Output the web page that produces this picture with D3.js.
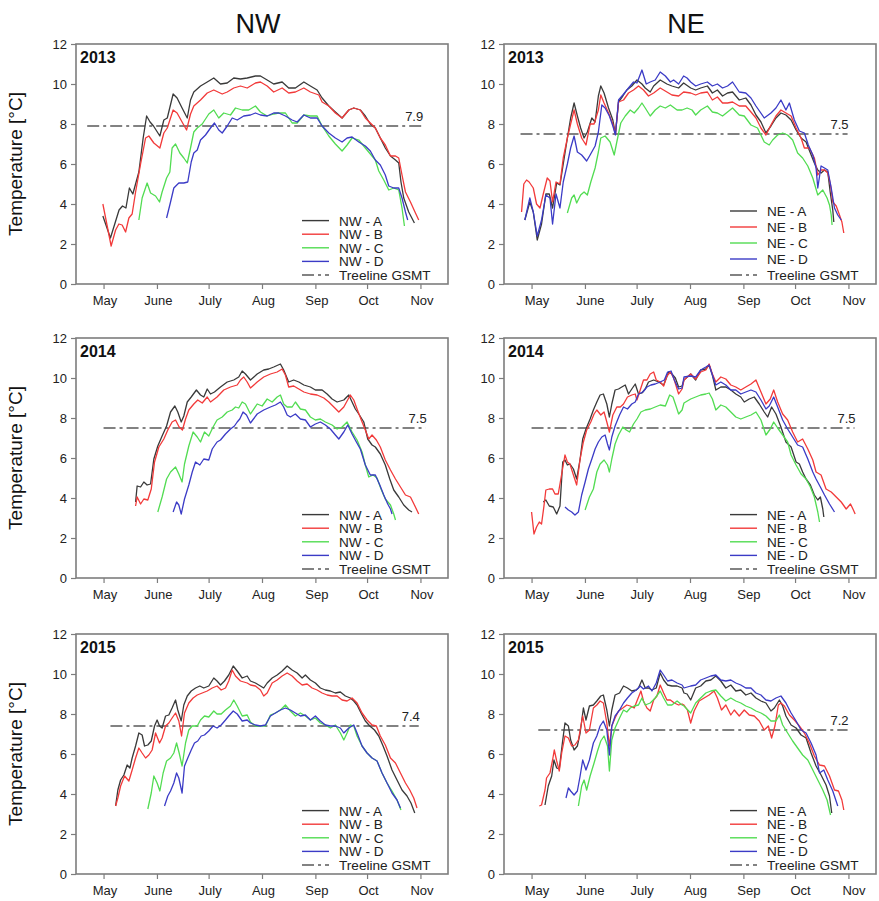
<!DOCTYPE html>
<html><head><meta charset="utf-8">
<script src="https://cdn.jsdelivr.net/npm/d3@7"></script>
<style>
body{margin:0;background:#fff;}
text{font-family:"Liberation Sans",Arial,Helvetica,sans-serif;}
</style>
</head><body>
<svg id="chart" width="879" height="901"></svg>
<script>
// Daily mean soil temperature at treeline sites, season May–Oct.
// Each point: [days since 1 May, °C]
const months = ["May", "June", "July", "Aug", "Sep", "Oct", "Nov"];
const monthStartDays = [0, 31, 61, 92, 123, 153, 184];
const years = [2013, 2014, 2015];
const aspects = ["NW", "NE"];
const sites = ["A", "B", "C", "D"];
const tempTicks = [0, 2, 4, 6, 8, 10, 12];

// treeline growing-season mean temperature and the span of the reference line
const gsmtNW = [7.9, 7.5, 7.4];
const gsmtNE = [7.5, 7.5, 7.2];
const gsmtSpanNW = [[-9.5, 185], [0, 187], [4, 183]];
const gsmtSpanNE = [[-6.4, 183.5], [0, 187.5], [3.9, 183.5]];

// ---- NW 2013 ----
const nw2013A = [[-0.4,3.4],[4,2.3],[9,3.7],[11,3.9],[13,3.8],[15,4.8],[17,4.5],[20.5,5.6],[23,7.3],[25,8.4],[27,8.1],[29,7.9],[32.7,7.4],[35,8.2],[37,8.3],[40.4,9.5],[42.7,9.3],[45.6,8.8],[48.6,8.3],[50.5,9.2],[52.4,9.6],[56.3,9.9],[60.2,10.1],[64,10.3],[67.9,10.0],[71.8,10.05],[75.6,10.3],[79.5,10.25],[83.4,10.3],[88.2,10.4],[91.1,10.4],[95,10.2],[98.8,10.0],[103.7,10.1],[107.5,9.8],[111.4,9.8],[116.3,10.1],[120.1,9.9],[124,9.7],[126.9,9.3],[130.8,8.9],[134.6,8.6],[138.5,8.3],[142.4,8.7],[145.3,8.8],[149.1,8.7],[152,8.4],[154.9,8.0],[157.8,7.8],[160.7,7.3],[163.6,6.8],[166.6,6.4],[169.5,6.2],[171.4,6.05],[172.7,5.1],[174.3,4.3],[177.2,3.6],[180.5,3.05]];
const nw2013B = [[-0.4,4.0],[4.4,1.9],[7,2.7],[8.9,3.0],[10.8,2.95],[12.8,2.6],[14.7,3.3],[16.6,3.5],[18.6,4.6],[21.5,6.0],[24.4,7.3],[26.3,7.4],[29.2,7.05],[32.7,6.8],[35,7.55],[37,7.8],[40.4,8.7],[42.7,8.55],[45.6,8.1],[48.2,7.7],[50.5,8.5],[52.4,8.9],[56.3,9.2],[60.2,9.55],[64,9.7],[68.9,9.5],[71.8,9.6],[75.6,9.8],[79.5,9.9],[83.4,9.8],[88.2,10.05],[91.1,10.1],[95,9.9],[98.8,9.6],[103.7,9.8],[107.5,9.55],[111.4,9.6],[116.3,9.8],[120.1,9.6],[125,9.45],[126.9,9.1],[130.8,8.9],[134.6,8.55],[138.5,8.3],[142.4,8.7],[145.3,8.8],[149.1,8.7],[152,8.3],[154.9,8.05],[157.8,7.8],[160.7,7.3],[163.6,6.95],[166.6,6.4],[169.5,6.4],[171.4,6.3],[173.3,5.45],[175.3,4.6],[178.2,4.1],[181.1,3.55],[183,3.2]];
const nw2013C = [[20.5,3.2],[22.4,4.3],[25.3,5.05],[27.3,4.55],[30.2,4.4],[32.5,4.1],[34,4.6],[36.6,5.3],[38.5,5.6],[39.8,6.8],[41.8,7.0],[44.3,6.55],[46.6,6.3],[48.6,6.05],[50.5,6.8],[52.4,7.6],[54.4,7.8],[57.3,8.0],[61.1,8.5],[64,8.7],[66.9,8.3],[69.8,8.55],[73.7,8.45],[76.6,8.8],[80.5,8.7],[84.3,8.7],[88.2,8.9],[91.1,8.6],[95,8.4],[98.8,8.5],[101.7,8.55],[105.6,8.55],[109.5,8.05],[112.4,8.05],[116.3,8.45],[120.1,8.4],[124,8.4],[126.9,7.9],[130.8,7.4],[134.6,7.0],[138.5,6.65],[141.4,6.95],[144.3,7.3],[148.2,7.2],[152,6.8],[154.9,6.5],[157.8,6.2],[159.8,5.65],[162.7,5.2],[165.6,4.7],[168.5,4.8],[171.4,4.7],[173.3,3.8],[174.7,2.9]];
const nw2013D = [[36.6,3.3],[38.9,4.1],[40.8,4.8],[43.7,5.05],[46.6,5.05],[48.9,5.1],[50.9,6.1],[52.4,6.55],[54.4,6.7],[56.3,7.2],[59.2,7.45],[62.1,7.8],[64.4,8.05],[66.9,7.7],[68.9,7.55],[71.8,7.9],[74.7,8.3],[77.6,8.2],[81.4,8.4],[85.3,8.45],[88.2,8.55],[91.1,8.45],[95,8.4],[98.8,8.55],[101.7,8.55],[105.6,8.4],[109.5,8.2],[112.4,8.1],[116.3,8.45],[120.1,8.3],[124,8.3],[126.9,7.9],[130.8,7.55],[134.6,7.3],[138.5,7.1],[141.4,7.3],[144.3,7.35],[148.2,7.1],[152,6.9],[154.9,6.65],[157.8,6.2],[160.7,5.95],[163.6,5.45],[165.6,4.9],[168.5,4.8],[171.4,4.8],[173.3,4.3],[175.3,3.6],[176.6,3.2]];

// ---- NE 2013 ----
const ne2013A = [[-3.9,3.2],[-1,4.1],[1,3.6],[3.3,2.2],[5.8,3.0],[8.3,4.5],[10.3,4.5],[12.2,3.8],[14.6,5.05],[16.5,4.95],[18.4,6.0],[20.8,7.3],[22.7,8.3],[24.7,9.05],[26.6,8.4],[28.5,7.8],[30.5,7.3],[32.4,7.6],[35,8.3],[36.9,8.1],[38.8,9.4],[40.2,9.9],[42.1,9.55],[44.7,8.8],[47.2,8.2],[48.7,7.5],[50.5,9.1],[53,9.4],[55.3,9.7],[58.2,9.9],[61.2,10.2],[64.1,10.0],[66,9.8],[68.9,9.6],[70.9,9.9],[74.7,10.2],[78.6,10.0],[81.5,9.9],[85.4,9.8],[88.3,10.05],[92.4,9.8],[95.3,9.7],[98.2,9.8],[102.1,9.9],[105,9.55],[107.9,9.7],[110.9,9.4],[113.8,9.55],[116.7,9.6],[120.6,9.2],[124.4,9.3],[127.4,8.95],[130.3,8.45],[133.2,8.1],[136.1,7.55],[139,7.9],[141.9,8.3],[144.8,8.55],[147.7,8.45],[150.7,8.2],[153.6,7.7],[156.5,7.3],[159.4,7.1],[161.9,6.55],[164.2,6.05],[166.2,5.7],[168.1,5.55],[170.1,5.7],[172,5.6],[173.4,4.6],[174.9,3.7],[175.5,3.1]];
const ne2013B = [[-5.8,3.6],[-4.5,5.0],[-2.9,5.2],[-1.4,5.1],[1,4.8],[2.9,4.0],[4.9,3.8],[6.8,4.5],[9.1,5.3],[10.7,5.15],[12.2,4.1],[14.2,5.1],[16.5,5.0],[18.4,6.3],[20.8,7.3],[22.7,8.0],[24.7,8.7],[26.6,8.0],[29.1,7.3],[31.6,6.95],[34,8.0],[36.3,8.0],[38.8,8.7],[40.2,9.45],[42.1,9.05],[44.7,8.55],[47.2,8.0],[48.7,7.5],[50.5,9.1],[53.4,9.2],[56.3,9.55],[59.2,9.7],[62.1,9.9],[65,9.7],[67.9,9.4],[70.9,9.55],[74.7,9.8],[78.6,9.6],[81.5,9.45],[85.4,9.4],[88.3,9.6],[92.4,9.55],[95.3,9.45],[98.2,9.55],[102.1,9.6],[105,9.2],[107.9,9.35],[110.9,9.05],[113.8,9.05],[116.7,9.1],[120.6,8.9],[124.4,8.9],[127.4,8.6],[130.3,8.3],[133.2,7.8],[136.1,7.45],[139,7.95],[141.9,8.4],[144.8,8.7],[147.7,8.55],[150.7,8.4],[153.6,7.8],[156.5,7.3],[158.4,6.8],[161.3,6.8],[164.2,6.3],[166.2,5.45],[168.1,5.7],[170.1,5.7],[172,5.55],[173.6,4.95],[174.9,4.1],[176.9,3.9],[178.8,3.45],[180.2,3.1],[181.3,2.55]];
const ne2013C = [[20.8,3.55],[23.3,4.3],[24.7,4.45],[26.2,4.05],[28.5,4.45],[30.5,4.6],[32.4,4.45],[34.4,5.1],[36.9,5.8],[38.8,6.6],[40.2,7.3],[42.7,7.4],[45.6,7.1],[48,6.45],[49.5,7.1],[51.8,8.05],[54.4,8.4],[57.3,8.7],[59.6,8.55],[62.1,8.8],[64.1,9.05],[66,8.8],[68.9,8.4],[71.8,8.7],[74.7,8.9],[77.7,8.8],[80.6,8.95],[84.5,8.7],[87.4,8.7],[90.3,8.8],[93.2,8.7],[95.3,8.45],[98.2,8.7],[102.1,8.9],[105,8.6],[107.9,8.55],[110.9,8.4],[113.8,8.6],[116.7,8.8],[120.6,8.45],[123.5,8.4],[127.4,7.95],[131.2,7.8],[135.1,7.1],[138,6.95],[140,7.2],[142.9,7.45],[145.8,7.55],[148.7,7.45],[151.6,7.2],[154.5,6.55],[157.4,6.3],[160.4,5.9],[163.3,5.3],[166.2,4.45],[169.1,4.7],[171.6,4.3],[173,3.95],[174,3.45],[174.5,2.95]];
const ne2013D = [[-3.9,3.2],[-1,4.3],[1,3.6],[3.3,2.4],[5.8,3.2],[8.3,4.45],[10.7,4.3],[12.2,3.0],[14.2,4.5],[16.5,3.8],[18.4,5.1],[20.8,6.0],[22.7,6.8],[24.7,7.4],[26.6,6.6],[29.1,6.45],[32,6.15],[34,6.45],[36.9,6.9],[38.8,7.6],[40.8,8.95],[42.7,8.8],[45.2,8.4],[47.2,7.9],[48.7,7.45],[50.5,9.2],[53,9.45],[56.3,9.8],[59.2,10.1],[61.2,10.05],[64.1,10.7],[66.6,10.0],[68.9,10.1],[71.8,10.2],[74.7,10.6],[77.7,10.4],[80.6,10.1],[82.5,10.2],[85.4,10.0],[88.3,10.4],[90.3,10.3],[92.4,10.1],[95.3,9.9],[98.2,10.0],[102.1,10.1],[105,9.9],[107.9,10.0],[110.9,9.8],[113.8,9.9],[116.7,10.1],[120.6,9.6],[124.4,9.55],[127.4,9.3],[130.3,8.9],[135.1,8.3],[139,8.55],[141.9,8.8],[144.8,9.2],[147.7,8.7],[149.7,9.05],[152.6,8.2],[155.5,7.65],[158.4,7.55],[160.7,6.95],[163.3,6.45],[165.2,5.8],[166.2,4.8],[168.1,5.9],[170.1,5.8],[172,5.7],[174,4.8],[175.9,3.8],[177.8,3.45],[179.8,3.2]];

// ---- NW 2014 ----
const nw2014A = [[18.6,3.8],[19.5,4.6],[21.5,4.55],[23.4,4.8],[25.3,4.65],[27.3,4.7],[29.2,5.95],[31.5,6.6],[34,7.1],[36.6,7.6],[38.9,8.3],[41.4,8.6],[43.1,8.3],[45.1,7.8],[46.6,8.1],[48.6,8.8],[50.9,9.05],[53.9,9.4],[56.3,9.15],[58.2,9.05],[60.2,9.45],[62.1,9.2],[64.4,9.3],[67.9,9.55],[71.8,9.8],[75.6,9.9],[78.5,10.05],[80.5,10.35],[82.4,10.2],[85.3,9.9],[89.2,10.2],[93,10.4],[95.9,10.45],[98.8,10.55],[102.7,10.7],[104.6,10.4],[107.5,9.8],[110.4,9.9],[113.4,9.8],[116.3,9.65],[120.1,9.55],[123,9.4],[126.9,9.4],[129.8,9.2],[132.7,8.95],[135.6,8.8],[139.5,8.9],[142.4,9.15],[144.3,8.8],[146.2,8.45],[148.2,8.2],[151.1,7.8],[153.4,6.95],[155.9,6.65],[157.8,6.55],[160.7,6.2],[163.6,5.65],[166.2,4.95],[168.5,4.4],[171.4,4.05],[174.3,3.65],[177.2,3.4],[179.1,3.3]];
const nw2014B = [[18.6,3.6],[19.5,4.05],[21.5,3.7],[23.4,3.95],[25.7,3.9],[27.7,4.45],[29.6,5.8],[32.1,6.55],[35,6.95],[37.3,7.4],[39.8,7.8],[41.8,7.9],[43.9,7.55],[45.8,7.4],[47.6,7.95],[49.5,8.4],[52.4,8.7],[54.7,8.9],[57.3,8.75],[60.2,9.05],[62.1,8.8],[65.9,9.05],[69.8,9.4],[73.7,9.55],[77.6,9.65],[79.5,9.9],[81.4,10.05],[83.4,9.8],[85.3,9.5],[89.2,9.8],[93,10.05],[96.9,10.2],[100.8,10.3],[103.7,10.45],[105.6,10.15],[107.5,9.55],[110.4,9.6],[113.4,9.45],[116.3,9.3],[120.1,9.2],[124,9.15],[127.9,9.0],[130.8,8.8],[133.7,8.55],[136.6,8.3],[139.5,8.55],[143.3,9.15],[145.3,8.9],[147.2,8.45],[150.1,7.8],[152,7.4],[154,6.95],[155.9,7.15],[158.4,6.9],[160.7,6.55],[163.6,5.9],[166.6,5.4],[169.5,4.95],[172.4,4.55],[175.3,4.15],[178.2,4.05],[180.5,3.65],[183,3.2]];
const nw2014C = [[31.5,3.3],[34,4.05],[36.6,4.95],[38.9,5.3],[41.8,5.55],[43.7,5.2],[45.6,4.8],[47,5.7],[49.5,6.6],[52,7.3],[54.4,7.05],[56.3,6.8],[58.6,7.3],[61.1,7.1],[63.6,7.55],[65.9,7.9],[68.9,8.05],[71.8,8.3],[74.7,8.4],[76.6,8.55],[78.5,8.5],[80.5,8.8],[82.4,8.7],[85.3,8.2],[89.2,8.7],[92.1,8.6],[95,8.95],[97.9,8.8],[100.8,9.05],[102.7,9.15],[104.6,8.7],[106.6,8.55],[109.5,8.55],[111.4,8.8],[114.3,8.45],[117.2,8.4],[120.1,8.05],[123,7.9],[125.9,7.95],[128.8,7.8],[132.7,7.65],[135.6,7.45],[138.5,7.55],[141.4,7.8],[144.3,7.3],[147.2,6.9],[150.1,6.3],[152,5.65],[154,5.05],[156.5,5.15],[158.8,5.0],[161.1,4.45],[163.6,3.95],[166.6,3.65],[168.5,3.2],[169.5,2.9]];
const nw2014D = [[40.4,3.3],[42.4,3.8],[43.7,3.65],[45.1,3.2],[47,3.95],[49.5,4.65],[51.5,5.3],[53.4,5.8],[55.9,5.65],[58.2,5.95],[61.1,5.9],[63.1,6.45],[65.9,6.8],[67.9,6.9],[70.8,7.2],[73.7,7.45],[76,7.6],[77.6,7.8],[79.1,7.95],[81,8.3],[83,8.15],[85.3,7.75],[89.2,8.2],[93,8.4],[96.9,8.55],[99.8,8.65],[102.7,8.8],[104.6,8.55],[106.6,8.15],[108.5,8.05],[111.4,8.2],[114.3,7.95],[117.2,7.9],[120.1,7.55],[123,7.7],[125.9,7.8],[128.8,7.65],[131.7,7.45],[134.6,7.15],[136.6,6.95],[139.5,7.3],[141.8,7.65],[144.3,7.2],[146.8,6.8],[149.1,6.45],[152,5.65],[154.9,5.15],[157.8,5.15],[160.4,4.65],[162.7,4.15],[165,3.7],[166.6,3.45],[167.5,3.2]];

// ---- NE 2014 ----
const ne2014A = [[6.8,3.8],[8.3,3.9],[10.3,3.6],[12.6,3.55],[14.6,3.2],[16.5,3.6],[18.1,5.8],[19.4,5.9],[20.8,5.65],[22.3,5.7],[24.3,5.45],[26.2,4.95],[28.2,5.95],[29.7,6.95],[31.6,7.45],[34,7.95],[35.9,8.4],[37.9,8.8],[39.8,9.15],[41.7,9.2],[43.7,8.7],[45.2,8.05],[46.6,8.7],[48.5,9.4],[50.5,9.45],[52.4,9.55],[54.4,9.65],[56.3,9.2],[58.2,9.45],[60.2,9.7],[62.1,9.2],[64.1,9.25],[66,9.45],[67.9,9.8],[70.9,9.9],[73.8,9.8],[76.7,9.65],[79.6,10.3],[81.5,10.2],[83.5,10.0],[85.4,9.55],[87.4,9.6],[88.5,9.9],[92.4,10.2],[95.3,9.9],[98.2,10.4],[101.2,10.45],[103.1,10.65],[105,10.15],[107,9.4],[109.9,9.55],[112.8,9.55],[115.7,9.4],[118.6,9.2],[121.5,9.05],[123.5,8.8],[126.4,8.95],[129.3,9.05],[132.2,8.7],[135.1,8.3],[137.1,8.05],[139.4,8.55],[141.9,8.2],[144.8,7.55],[147.7,6.8],[150.7,6.55],[153.6,5.8],[155.5,5.7],[157.4,5.3],[159.4,4.95],[161.9,4.65],[164.2,4.15],[166.2,3.9],[167.7,4.05],[169.1,3.45],[169.7,3.05]];
const ne2014B = [[0,3.3],[1.4,2.2],[2.9,2.55],[4.5,2.8],[5.8,2.7],[7.2,3.6],[8.3,4.4],[10.3,4.45],[12.2,4.45],[13.6,4.2],[15.5,4.2],[17.5,5.2],[19.4,6.15],[20.8,5.8],[22.3,5.7],[24.3,5.15],[26.2,4.65],[28.2,5.95],[30.1,6.8],[32,7.4],[34.4,7.8],[36.3,8.2],[37.9,8.4],[40.2,8.15],[42.1,8.3],[43.7,7.8],[45.2,7.3],[47.2,8.15],[49.5,8.55],[51.5,8.55],[53.4,8.7],[55.7,9.05],[58.2,9.15],[60.2,9.2],[61.2,8.9],[63.1,9.4],[65,9.9],[67,9.9],[68.9,10.2],[70.9,10.3],[72.4,9.9],[74.7,9.8],[76.7,9.6],[78.6,10.1],[80.6,10.3],[82.5,10.0],[85.4,9.2],[87.4,9.45],[88.5,9.9],[92.4,10.2],[95.3,9.95],[98.2,10.3],[101.2,10.4],[103.1,10.7],[105,10.2],[107,9.8],[109.9,10.05],[112.8,9.95],[115.7,9.65],[118.6,9.55],[121.5,9.4],[124.4,9.55],[127.4,9.7],[130.3,9.9],[133.2,9.3],[136.1,8.7],[138.6,8.95],[140.6,9.4],[142.9,8.8],[145.8,8.2],[148.7,7.9],[151.6,7.3],[154.5,6.8],[157.4,6.95],[160.4,6.45],[163.3,5.9],[165.2,5.3],[168.1,5.15],[171,4.45],[174,4.3],[176.9,4.05],[179.8,3.8],[182.7,3.45],[185.2,3.7],[186.6,3.45],[187.9,3.2]];
const ne2014C = [[31.1,3.4],[33.6,4.05],[35.9,4.45],[37.9,5.3],[39.8,5.7],[42.1,5.9],[44.1,5.65],[45.2,5.3],[46.6,5.95],[48.5,6.7],[50.5,7.15],[53,7.55],[55,7.4],[56.9,7.3],[59.2,7.7],[61.2,7.95],[63.5,8.3],[66,8.4],[69,8.45],[71.8,8.55],[74.7,8.65],[77.7,8.6],[80.2,9.15],[82.1,9.05],[83.5,8.7],[85.4,8.2],[87.4,8.4],[88.5,8.75],[92.4,8.95],[95.3,9.05],[98.2,9.15],[101.2,9.2],[103.1,9.25],[105,8.95],[107,8.4],[109.9,8.65],[112.8,8.55],[115.7,8.3],[118.6,8.05],[121.5,7.95],[124.4,8.05],[127.4,8.15],[130.3,8.3],[133.2,7.9],[136.1,7.15],[138.6,7.45],[140.6,7.8],[142.9,7.5],[145.8,7.15],[148.7,6.8],[150.7,6.15],[153.6,5.65],[156.5,5.2],[159.4,4.95],[161.9,4.55],[164.2,4.05],[166.2,3.3],[167.2,2.8]];
const ne2014D = [[19.4,3.55],[21.4,3.4],[23.3,3.3],[25.2,3.15],[27.2,3.3],[29.1,4.15],[31.1,4.8],[33,5.45],[35,5.95],[36.9,6.45],[38.8,6.8],[40.8,7.05],[42.7,7.15],[44.1,6.7],[45.2,6.4],[46.6,7.05],[48.5,7.6],[51.1,8.15],[53.4,8.55],[55.7,8.45],[58.2,8.7],[60.2,8.8],[62.1,9.2],[64.6,9.3],[67,9.55],[69.3,9.65],[71.8,9.7],[74.7,9.8],[77.1,9.9],[79,10.3],[81,10.35],[82.9,9.9],[85.4,9.45],[87.4,9.5],[88.5,10.05],[92.4,10.1],[95.3,10.05],[98.2,10.4],[101.2,10.55],[103.1,10.65],[105,10.15],[107,9.65],[109.9,9.8],[112.8,9.65],[115.7,9.4],[118.6,9.4],[121.5,9.2],[124.4,9.3],[127.4,9.4],[130.3,9.3],[133.2,8.9],[136.1,8.45],[138,8.6],[140.6,9.05],[142.9,8.55],[145.8,7.9],[148.7,7.45],[151.6,7.05],[154.5,6.65],[157.4,6.55],[160.4,5.95],[163.3,5.3],[165.2,4.95],[167.7,4.55],[170.1,4.15],[173,3.7],[175.9,3.3]];

// ---- NW 2015 ----
const nw2015A = [[7,3.4],[8.3,4.2],[9.9,4.7],[11.8,4.95],[13.7,5.45],[15.3,5.3],[16.6,5.8],[18.6,6.4],[20.5,7.05],[22.4,6.95],[23.8,6.4],[25.7,6.45],[27.7,6.65],[29.6,7.4],[31.1,7.7],[32.5,7.4],[34,7.3],[36,7.9],[37.9,7.95],[39.8,8.3],[41.8,8.7],[43.1,8.2],[45.1,7.65],[46.6,8.45],[48.6,8.9],[50.9,9.15],[53.4,9.3],[55.9,9.4],[58.2,9.3],[61.1,9.4],[64,9.8],[65.9,9.65],[67.9,9.45],[70.2,9.65],[72.7,9.95],[75.3,10.4],[77.6,10.15],[80.5,9.8],[83.4,9.9],[85.3,9.65],[88.2,9.55],[91.1,9.4],[93,9.3],[95,9.55],[97.9,9.8],[100.8,9.95],[103.7,10.15],[106.6,10.4],[109.5,10.2],[112.4,10.05],[115.3,9.8],[117.2,9.95],[120.1,9.7],[123,9.55],[125.9,9.3],[128.8,9.2],[131.7,9.15],[134.6,9.05],[137.5,9.1],[140.4,8.9],[143.3,8.8],[145.3,8.65],[147.2,8.45],[149.5,8.05],[152,7.65],[154.6,7.4],[157.3,7.2],[159.8,6.9],[162.3,6.4],[164.6,5.9],[167.5,5.2],[170.4,4.7],[173.3,4.2],[176.2,3.9],[178.5,3.55],[180.7,3.05]];
const nw2015B = [[7,3.4],[8.3,3.8],[9.9,4.4],[12.2,4.9],[14.7,4.65],[16.6,5.2],[18.6,5.8],[20.5,6.3],[22.4,6.05],[24.4,5.8],[26.3,5.95],[28.2,6.2],[30.2,7.05],[32.5,6.55],[34,6.8],[36,7.4],[37.9,7.55],[39.8,7.8],[41.8,8.05],[43.7,7.65],[45.3,6.9],[47,8.05],[49.5,8.55],[52,8.8],[54.4,8.95],[57.3,9.05],[60.2,9.15],[63.1,9.3],[65.9,9.4],[68.3,9.2],[70.8,9.3],[72.7,9.65],[74.7,10.2],[76.6,9.9],[79.5,9.65],[83.4,9.55],[85.3,9.45],[88.2,9.4],[91.1,9.2],[93,8.9],[95,9.05],[97.9,9.55],[100.8,9.7],[103.7,9.9],[106.6,10.05],[109.5,9.9],[112.4,9.65],[115.3,9.45],[118.2,9.5],[121.1,9.3],[124,9.2],[126.9,9.05],[129.8,8.95],[132.7,8.9],[135.6,8.9],[138.5,8.7],[141.4,8.65],[144.3,8.8],[147.2,8.55],[150.1,8.05],[153,7.7],[155.9,7.45],[158.4,7.4],[160.7,6.9],[163.6,6.45],[166.6,5.8],[169.5,5.55],[172.4,5.05],[175.3,4.55],[177.8,4.2],[180.1,3.8],[182,3.3]];
const nw2015C = [[25.7,3.25],[27.7,4.05],[29.2,4.9],[31.1,4.55],[32.7,4.15],[34.6,5.05],[36.6,5.65],[38.9,5.8],[40.8,6.05],[42.4,6.55],[43.9,6.05],[45.6,5.4],[47.6,6.55],[49.5,7.2],[51.5,7.4],[54.4,7.4],[56.3,7.7],[58.6,7.9],[61.1,7.85],[64,8.15],[65.9,8.0],[68.3,8.0],[70.8,8.2],[73.7,8.4],[75.6,8.7],[77.6,8.4],[80.5,7.9],[83.4,7.95],[85.3,7.6],[88.2,7.4],[91.1,7.4],[94,7.4],[96.9,7.95],[99.8,8.05],[102.7,8.2],[105.6,8.45],[108.5,8.15],[111.4,7.9],[114.3,8.05],[117.2,7.9],[120.1,7.7],[123,7.8],[125.9,7.55],[128.8,7.45],[131.7,7.3],[134.6,7.45],[137.5,7.05],[139.5,6.7],[141.4,7.05],[143.3,7.45],[145.3,7.4],[147.2,6.9],[150.1,6.4],[153,6.05],[155.9,5.8],[158.8,5.65],[161.7,5.05],[164.6,4.55],[167.5,4.15],[170.4,3.7],[172.7,3.2]];
const nw2015D = [[35.4,3.4],[37.3,3.9],[38.9,4.15],[40.8,4.55],[42.4,5.05],[43.7,4.8],[45.6,4.05],[47,5.4],[48.9,5.8],[50.9,6.2],[52.8,6.55],[54.7,6.65],[56.7,6.9],[58.6,6.95],[61.1,7.15],[63.6,7.4],[65.9,7.3],[68.3,7.45],[70.8,7.7],[72.7,7.9],[75.3,8.15],[77.6,8.0],[80.5,7.65],[83.4,7.7],[85.3,7.55],[88.2,7.45],[91.1,7.4],[94,7.45],[96.9,7.9],[99.8,8.05],[102.7,8.2],[105.6,8.3],[108.5,8.2],[111.4,8.05],[114.3,7.9],[117.2,7.95],[120.1,7.7],[123,7.9],[125.9,7.65],[128.8,7.45],[131.7,7.4],[134.6,7.4],[137.5,7.3],[139.5,7.05],[142.4,7.3],[145.3,7.45],[147.2,7.05],[150.1,6.4],[153,6.05],[155.9,5.8],[158.8,5.65],[161.7,5.05],[164.6,4.55],[167.5,4.05],[170.4,3.7],[172.4,3.3]];

// ---- NE 2015 ----
const ne2015A = [[7.8,3.45],[9.7,4.4],[11.7,4.9],[13,5.7],[14.6,5.3],[16.1,5.25],[17.9,6.55],[19.4,7.55],[21.4,7.4],[22.7,6.7],[24.7,6.2],[26.6,6.4],[28.2,7.05],[30.1,8.3],[31.6,7.7],[33.6,8.4],[35.9,8.45],[37.9,8.65],[40.2,8.9],[41.7,8.95],[43.7,8.2],[45.2,7.4],[46.6,8.2],[48.5,8.95],[51.1,9.05],[53.4,9.4],[55.7,9.3],[58.2,9.15],[60.8,9.2],[62.1,9.3],[64.1,9.7],[66,9.3],[67.9,9.3],[69.9,9.2],[72.4,9.3],[74.7,10.05],[76.7,9.7],[79,9.45],[81.5,9.4],[84.5,9.4],[87.4,9.3],[88.5,9.05],[90.3,9.0],[92.4,8.7],[95.3,9.3],[98.2,9.4],[101.2,9.65],[104.1,9.7],[107,9.9],[109.9,9.65],[112.8,9.3],[115.7,9.45],[118.6,9.15],[121.5,9.2],[124.4,8.95],[127.4,9.05],[130.3,8.8],[133.2,8.65],[136.1,8.55],[139,8.15],[141,8.3],[143.9,8.7],[145.8,8.4],[147.7,7.9],[150.7,7.45],[153.6,7.3],[156.5,6.95],[159.4,6.8],[162.3,6.05],[165.2,5.4],[168.1,4.95],[171,4.45],[173,3.9],[174.3,3.05]];
const ne2015B = [[4.5,3.4],[5.8,3.45],[7.8,4.2],[8.7,4.8],[10.7,5.05],[12.2,5.7],[13.2,6.2],[14.6,5.65],[16.1,5.15],[17.5,6.05],[19.4,6.9],[21.4,6.8],[23.3,6.4],[25.2,6.45],[27.2,6.7],[29.7,7.9],[31.6,7.05],[33.6,7.2],[35.9,8.3],[37.9,8.45],[39.8,8.65],[41.7,8.55],[43.7,7.55],[45.2,6.4],[46.6,7.4],[48.5,7.8],[50.5,8.15],[53,8.3],[55.3,8.45],[57.3,8.4],[59.6,8.3],[61.2,8.65],[63.5,9.15],[65,8.65],[67,8.3],[68.9,8.15],[70.9,8.7],[72.8,8.9],[74.7,9.45],[76.7,9.05],[78.6,8.7],[80.6,8.7],[82.9,8.55],[85.4,8.45],[87.4,8.5],[88.5,8.45],[90.5,8.2],[92.4,7.55],[94.4,8.15],[97.3,8.65],[100.2,8.8],[103.1,8.95],[106,9.15],[107.9,8.8],[110.3,8.2],[112.8,8.45],[115.7,7.95],[117.7,8.2],[120.6,7.9],[123.5,8.2],[126.4,7.95],[129.3,7.9],[132.2,7.65],[135.1,7.2],[137.5,7.4],[139.4,6.8],[141.3,7.4],[143.3,8.45],[144.8,8.55],[146.8,8.4],[149.7,7.95],[152.6,7.7],[155.5,7.4],[158.4,7.05],[161.3,6.55],[164.2,5.9],[167.2,5.45],[170.1,5.4],[173,4.9],[175.9,4.2],[178.2,4.15],[180.2,3.7],[181.3,3.2]];
const ne2015C = [[27.2,3.4],[29.1,4.4],[30.5,4.7],[32,4.2],[34,4.9],[36.3,5.55],[38.3,6.15],[40.2,6.65],[42.1,6.9],[44.1,6.4],[45.2,5.15],[46.6,6.7],[48.5,7.3],[51.1,7.8],[53.4,8.2],[55.3,8.1],[57.3,8.3],[59.6,8.4],[62.1,8.45],[64.1,8.8],[66,8.45],[68.9,8.55],[71.8,8.8],[74.7,9.15],[76.7,8.8],[79,8.45],[81.5,8.45],[84.5,8.65],[87.4,8.45],[88.5,8.4],[92.4,8.05],[95.3,8.55],[98.2,8.8],[101.2,9.05],[104.1,9.15],[107,9.2],[109.9,8.9],[112.8,8.65],[115.7,8.8],[118.6,8.65],[121.5,8.55],[124.4,8.4],[127.4,8.3],[130.3,8.15],[133.2,8.05],[136.1,7.9],[139,7.65],[141.9,7.65],[143.9,7.95],[145.8,7.45],[148.7,7.05],[151.6,6.65],[154.5,6.3],[157.4,5.95],[160.4,5.7],[163.3,5.2],[166.2,4.7],[169.1,4.2],[171.6,3.7],[173.6,2.95]];
const ne2015D = [[20,3.8],[21.4,4.3],[22.7,4.15],[24.7,3.95],[26.6,4.15],[28.2,4.9],[29.7,5.7],[31.6,5.2],[33.6,5.7],[35.9,6.55],[37.9,6.9],[39.8,7.4],[41.7,7.65],[43.7,7.2],[45.2,5.95],[46.6,7.4],[48.5,7.9],[51.1,8.2],[53.4,8.55],[55.7,8.8],[58.2,9.05],[60.8,9.2],[63.1,9.4],[65,9.25],[67.9,9.4],[69.9,9.15],[72.4,9.55],[74.7,10.2],[76.7,9.95],[79,9.65],[81.5,9.7],[84.5,9.55],[87.4,9.45],[88.5,9.3],[92.4,9.4],[95.3,9.45],[98.2,9.7],[101.2,9.8],[104.1,9.9],[107,9.95],[109.9,9.7],[112.8,9.65],[115.7,9.7],[118.6,9.55],[121.5,9.45],[124.4,9.3],[127.4,9.3],[130.3,9.05],[133.2,8.95],[136.1,8.7],[139,8.65],[141.9,8.8],[144.8,8.9],[147.7,8.55],[150.7,8.05],[153.6,7.65],[156.5,7.2],[159.4,7.05],[162.3,6.55],[165.2,5.95],[167.2,5.05],[169.7,5.2],[172,4.7],[174.9,4.15],[177.8,3.4]];

const seriesNW = [[nw2013A, nw2013B, nw2013C, nw2013D], [nw2014A, nw2014B, nw2014C, nw2014D], [nw2015A, nw2015B, nw2015C, nw2015D]];
const seriesNE = [[ne2013A, ne2013B, ne2013C, ne2013D], [ne2014A, ne2014B, ne2014C, ne2014D], [ne2015A, ne2015B, ne2015C, ne2015D]];

// ---- drawing ----
const siteColors = ["#3a3a3a", "#f23a3a", "#52dc52", "#3b3bc6"];
const frameColor = "#7d7d7d";
const W = 372, H = 240;
const colLeft = [76, 504];
const rowTop = [44, 338, 634];

const svg = d3.select("#chart");
const x = d3.scaleLinear().domain([-16, 200]).range([0, W]);
const y = d3.scaleLinear().domain([0, 12]).range([H, 0]);
const line = d3.line().x(d => x(d[0])).y(d => y(d[1]));

// column headings
aspects.forEach((a, c) => {
  svg.append("text")
    .attr("x", colLeft[c] + W / 2 - 4).attr("y", 33)
    .attr("text-anchor", "middle")
    .attr("font-size", 27).attr("fill", "#111")
    .text(a);
});

years.forEach((yr, r) => {
  // y-axis title on the left column
  svg.append("text")
    .attr("transform", `translate(22,${rowTop[r] + H / 2}) rotate(-90)`)
    .attr("text-anchor", "middle")
    .attr("font-size", 19).attr("fill", "#111")
    .text("Temperature [°C]");

  aspects.forEach((a, c) => {
    const g = svg.append("g").attr("transform", `translate(${colLeft[c]},${rowTop[r]})`);
    const data = c === 0 ? seriesNW[r] : seriesNE[r];
    const gsmt = c === 0 ? gsmtNW[r] : gsmtNE[r];
    const span = c === 0 ? gsmtSpanNW[r] : gsmtSpanNE[r];

    // axes
    const ya = g.append("g").call(d3.axisLeft(y).tickValues(tempTicks).tickSize(5).tickPadding(4));
    const xa = g.append("g").attr("transform", `translate(0,${H})`)
      .call(d3.axisBottom(x).tickValues(monthStartDays).tickSize(5).tickPadding(7)
        .tickFormat((d, i) => months[i]));
    [ya, xa].forEach(ax => {
      ax.select(".domain").remove();
      ax.selectAll(".tick line").attr("stroke", frameColor).attr("stroke-width", 1.2);
      ax.selectAll(".tick text").attr("font-size", 13).attr("fill", "#222")
        .attr("font-family", "'Liberation Sans', Arial, sans-serif");
    });
    xa.selectAll(".tick text").attr("dx", c === 0 ? 1 : 5);

    // treeline GSMT reference line
    g.append("line")
      .attr("x1", x(span[0])).attr("x2", x(span[1]))
      .attr("y1", y(gsmt)).attr("y2", y(gsmt))
      .attr("stroke", "#5a5a5a").attr("stroke-width", 1.4)
      .attr("stroke-dasharray", "12,4,3,4");
    g.append("text")
      .attr("x", x(span[1]) - 8).attr("y", y(gsmt) - 5)
      .attr("text-anchor", "middle").attr("font-size", 13).attr("fill", "#222")
      .text(d3.format(".1f")(gsmt));

    // temperature series
    data.forEach((s, i) => {
      g.append("path").datum(s)
        .attr("d", line)
        .attr("fill", "none")
        .attr("stroke", siteColors[i])
        .attr("stroke-width", 1.3)
        .attr("stroke-linejoin", "round");
    });

    // frame
    g.append("rect").attr("width", W).attr("height", H)
      .attr("fill", "none").attr("stroke", frameColor).attr("stroke-width", 1.6);

    // year tag
    g.append("text").attr("x", 4).attr("y", 19)
      .attr("font-size", 16).attr("font-weight", "bold").attr("fill", "#111")
      .text(yr);

    // legend
    const gap = (c === 1 && r === 0) ? 16 : 13.6;
    const leg = g.append("g").attr("transform", `translate(226,${H - 9 - gap * 4})`);
    const entries = sites.map((s, i) => ({ label: `${a} - ${s}`, color: siteColors[i], dash: null }))
      .concat([{ label: "Treeline GSMT", color: "#5a5a5a", dash: "12,4,3,4" }]);
    entries.forEach((e, i) => {
      leg.append("line").attr("x1", 0).attr("x2", 27)
        .attr("y1", i * gap).attr("y2", i * gap)
        .attr("stroke", e.color).attr("stroke-width", 1.4)
        .attr("stroke-dasharray", e.dash);
      leg.append("text").attr("x", 37).attr("y", i * gap + 5)
        .attr("font-size", 13.6).attr("fill", "#222")
        .text(e.label);
    });
  });
});
</script>
</body></html>
